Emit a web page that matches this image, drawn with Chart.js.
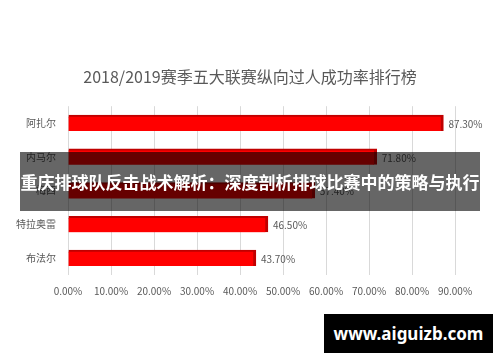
<!DOCTYPE html>
<html>
<head>
<meta charset="utf-8">
<script src="https://cdn.jsdelivr.net/npm/chart.js@4"></script>
<style>
  body { margin: 0; background: #fff; }
  #wrap { position: relative; width: 500px; height: 362px; }
  #banner {
    position: absolute; left: 20px; top: 152px; width: 460px; height: 59px;
    background: rgba(0,0,0,0.6); color: #fff;
    font: bold 17px "Noto Sans CJK SC", sans-serif;
    display: flex; align-items: center; justify-content: center; white-space: nowrap;
  }
  #mark {
    position: absolute; left: 324px; top: 314px; width: 169px; height: 39px;
    background: #000; color: #fff;
    font: bold 17px "Noto Sans", sans-serif;
    display: flex; align-items: center; justify-content: center;
  }
</style>
</head>
<body>
<div id="wrap">
  <canvas id="bar-chart" width="500" height="362"></canvas>
  <div id="banner">重庆排球队反击战术解析：深度剖析排球比赛中的策略与执行</div>
  <div id="mark">www.aiguizb.com</div>
</div>
<script>
var players = ["阿扎尔", "内马尔", "梅西", "特拉奥雷", "布法尔"];
var rates = [87.3, 71.8, 57.4, 46.5, 43.7];

// value labels at the end of each bar
var valueLabels = {
  id: "valueLabels",
  afterDatasetsDraw: function(chart) {
    var ctx = chart.ctx;
    ctx.save();
    ctx.font = "10px 'Noto Sans CJK SC', sans-serif";
    ctx.fillStyle = "#595959";
    ctx.textBaseline = "middle";
    chart.getDatasetMeta(0).data.forEach(function(bar, i) {
      ctx.fillText(rates[i].toFixed(2) + "%", bar.x + 5, bar.y + 1);
    });
    ctx.restore();
  }
};

Chart.defaults.font.family = "'Noto Sans CJK SC', sans-serif";
Chart.defaults.color = "#595959";

new Chart(document.getElementById("bar-chart"), {
  type: "bar",
  data: {
    labels: players,
    datasets: [{
      data: rates,
      backgroundColor: "#ff0000",
      borderColor: "#c00000",
      borderWidth: { top: 2, right: 3, bottom: 0, left: 0 },
      borderSkipped: false,
      barThickness: 16
    }]
  },
  plugins: [valueLabels],
  options: {
    responsive: false,
    animation: false,
    indexAxis: "y",
    layout: {
      padding: { left: 0, right: 0, top: 0, bottom: 55 }
    },
    plugins: {
      legend: { display: false },
      tooltip: { enabled: false },
      title: {
        display: true,
        text: "2018/2019赛季五大联赛纵向过人成功率排行榜",
        color: "#595959",
        font: { size: 16, weight: "normal" },
        padding: { top: 67, bottom: 20 }
      }
    },
    scales: {
      x: {
        min: 0,
        max: 90,
        ticks: {
          stepSize: 10,
          padding: 10,
          font: { size: 10 },
          callback: function(v) { return v.toFixed(2) + "%"; }
        },
        grid: { color: "#d9d9d9", drawTicks: false },
        border: { display: false }
      },
      y: {
        afterFit: function(s) { s.width = 68; },
        ticks: { padding: 4, font: { size: 10 } },
        grid: { display: false },
        border: { display: false }
      },
      // empty right axis, only keeps room for the value labels
      yRight: {
        type: "category",
        position: "right",
        afterFit: function(s) { s.width = 45; },
        ticks: { display: false },
        grid: { display: false },
        border: { display: false }
      }
    }
  }
});
</script>
</body>
</html>
